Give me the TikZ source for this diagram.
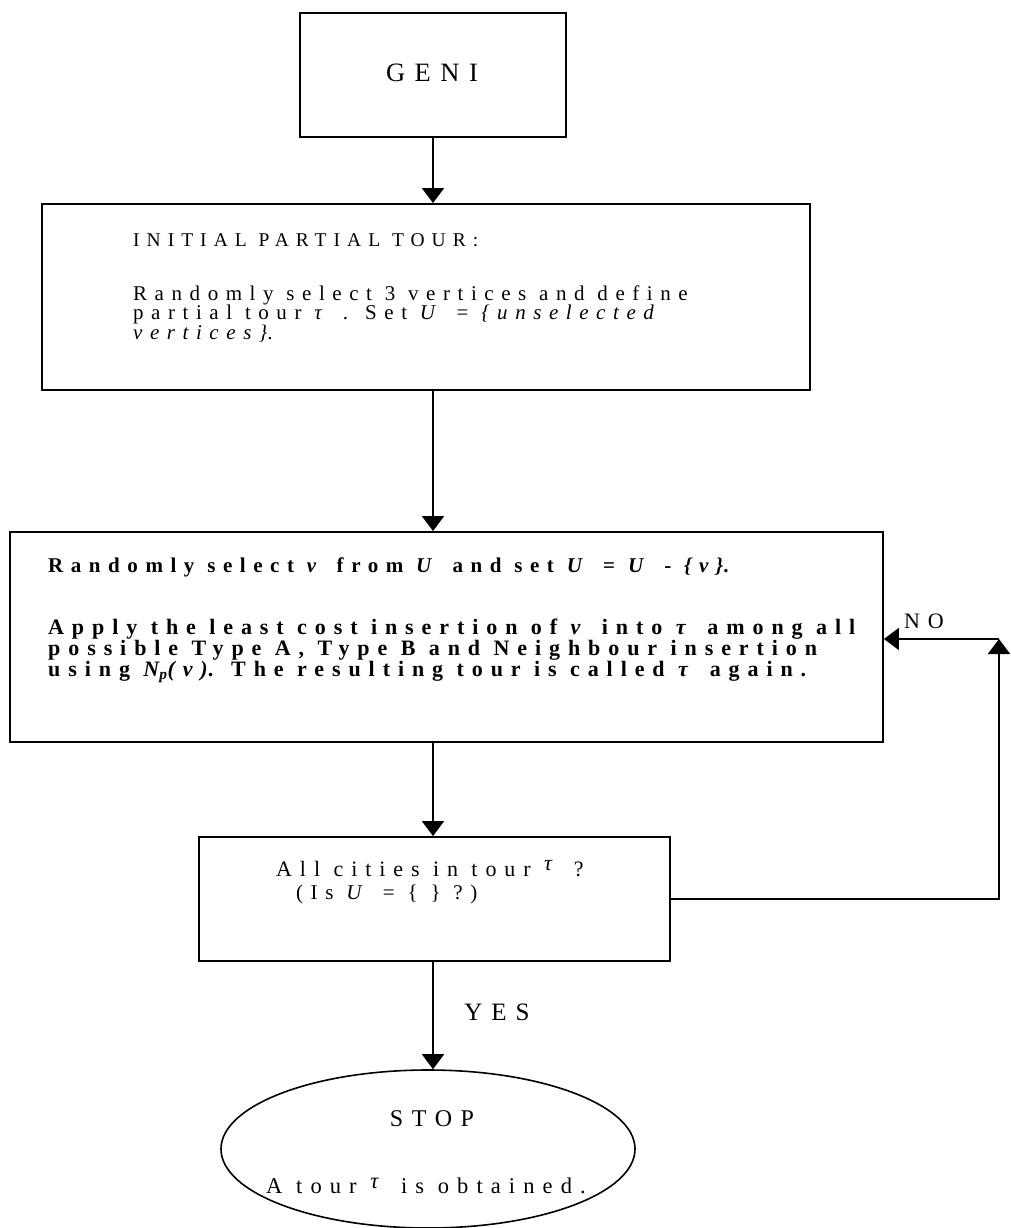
\documentclass[tikz,border=0pt]{standalone}
\usepackage{fontspec}
\setmainfont{Liberation Serif}
\newfontfamily\spfont[LetterSpace=36]{Liberation Serif}
\usetikzlibrary{arrows.meta,shapes.geometric}

\newcommand{\tv}{\textit{τ}}
\newcommand{\iv}[1]{\textit{#1}}

\tikzset{
  boxnode/.style={draw, line width=1.8pt, inner sep=0pt},
  ovalnode/.style={draw, ellipse, line width=1.6pt, inner sep=0pt},
  txt/.style={anchor=base west, inner sep=0pt, font=\spfont\fontsize{21}{22}\selectfont},
  bodybold/.style={anchor=base west, inner sep=0pt, font=\spfont\bfseries\fontsize{22}{22}\selectfont},
  headtxt/.style={inner sep=0pt, font=\spfont\fontsize{20}{24}\selectfont},
  arr/.style={line width=1.8pt, -{Triangle[length=15pt,width=22pt]}}
}

\begin{document}
\begin{tikzpicture}[x=1pt,y=-1pt]
  \useasboundingbox (0,0) rectangle (1011,1228);

  % boxes of the flow chart
  \node[boxnode, minimum width=266pt, minimum height=124pt] (geni) at (433,75) {};
  \node[boxnode, minimum width=768pt, minimum height=186pt] (init) at (426,297) {};
  \node[boxnode, minimum width=873pt, minimum height=210pt] (main) at (446.5,637) {};
  \node[boxnode, minimum width=471pt, minimum height=124pt] (cond) at (434.5,899) {};
  \node[ovalnode, minimum width=414pt, minimum height=158pt] (stop) at (428,1149) {};

  % texts
  \node[headtxt, font=\spfont\fontsize{26.5}{30}\selectfont] (genitxt) at (432,73) {GENI};

  \node[headtxt, anchor=base west, font=\spfont\fontsize{19.5}{24}\selectfont] (inittitle) at (133,246) {INITIAL PARTIAL TOUR:};
  \node[txt] (initl1) at (133,300) {Randomly select 3 vertices and define};
  \node[txt] (initl2) at (133,319.5) {partial tour \tv\ . Set \iv{U} = \iv{\{unselected}};
  \node[txt] (initl3) at (133,339) {\iv{vertices\}}.};

  \node[bodybold, font=\spfont\bfseries\fontsize{21}{22}\selectfont] (mainl1) at (48,572) {Randomly select \iv{v} from \iv{U} and set \iv{U} = \iv{U} - \iv{\{v\}}.};
  \node[bodybold] (mainl2) at (48,634) {Apply the least cost insertion of \iv{v} into \tv\ among all};
  \node[bodybold] (mainl3) at (48,655) {possible Type A, Type B and Neighbour insertion};
  \node[bodybold] (mainl4) at (48,676) {using \iv{N\textsubscript{p}(v)}. The resulting tour is called \tv\ again.};

  \node[txt, font=\spfont\fontsize{22}{24}\selectfont] (condl1) at (276,876) {All cities in tour \raisebox{6pt}{\tv} ?};
  \node[txt] (condl2) at (296,899) {(Is \iv{U} = \{ \} ?)};

  \node[headtxt, font=\spfont\fontsize{24}{26}\selectfont] (stoptxt) at (432,1119) {STOP};
  \node[txt, font=\spfont\fontsize{22.5}{24}\selectfont] (stopl2) at (266,1193) {A tour \raisebox{5pt}{\tv} is obtained.};

  \node[headtxt, font=\spfont\fontsize{25}{26}\selectfont] (yes) at (497,1012) {YES};
  \node[headtxt, font=\spfont\fontsize{22}{24}\selectfont] (no) at (924,621) {NO};

  % connectors
  \coordinate (spine) at (433,0);
  \coordinate (loop) at (999,639);
  \draw[arr] (geni.south -| spine) -- (init.north -| spine);
  \draw[arr] (init.south -| spine) -- (main.north -| spine);
  \draw[arr] (main.south -| spine) -- (cond.north -| spine);
  \draw[arr] (cond.south -| spine) -- (stop.north -| spine);
  \draw[arr] (cond.east) -| (loop);
  \draw[arr] (loop) -- (main.east |- loop);
\end{tikzpicture}
\end{document}
